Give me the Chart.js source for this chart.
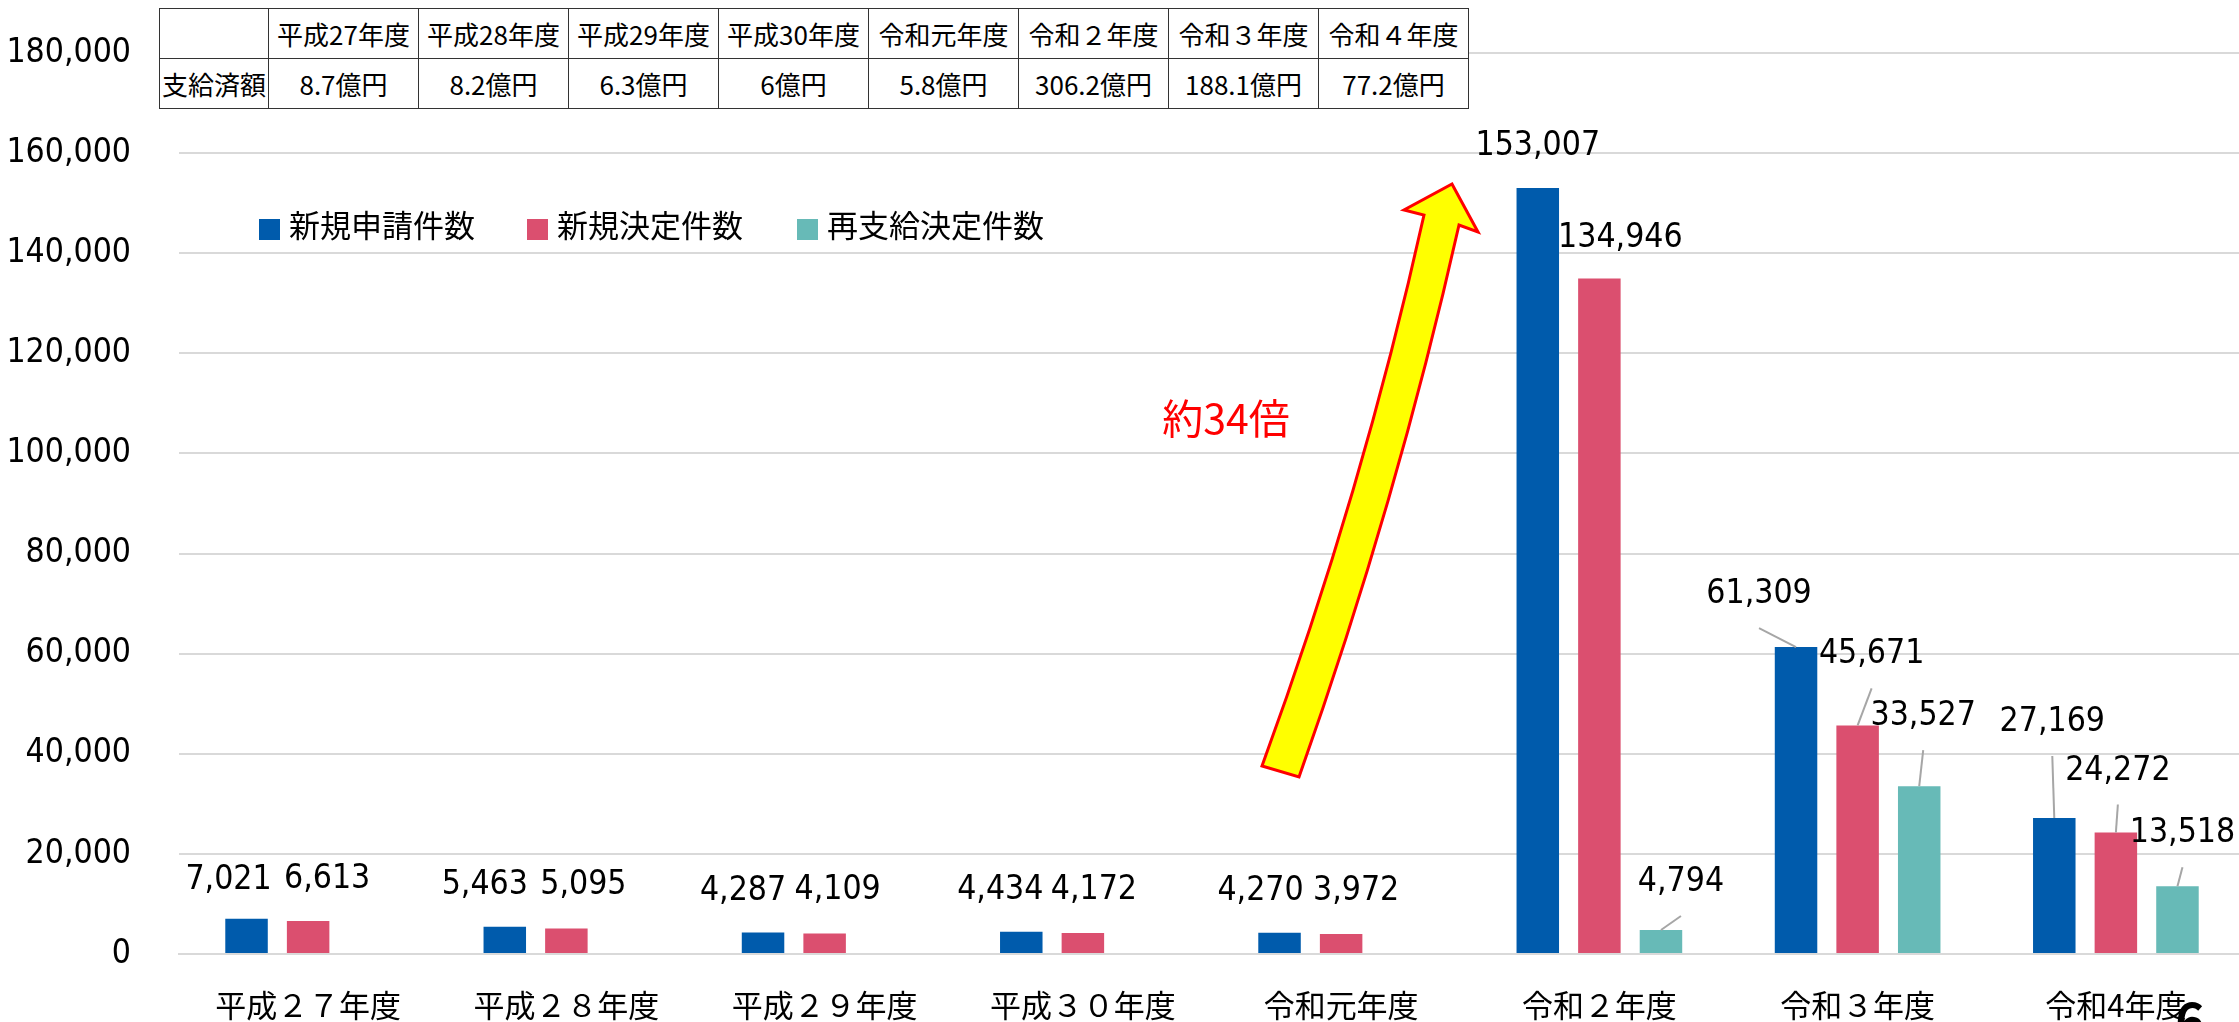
<!DOCTYPE html>
<html lang="ja">
<head>
<meta charset="utf-8">
<title>支給件数の推移</title>
<script src="https://cdn.jsdelivr.net/npm/chart.js@4/dist/chart.umd.min.js"></script>
<style>
  html, body { margin: 0; padding: 0; background: #fff; overflow: hidden; }
  .wrap { position: relative; width: 2245px; height: 1022px; }
  #paid {
    position: absolute; left: 159px; top: 8px;
    border-collapse: collapse; background: #fff;
    font-family: 'Noto Sans CJK JP', sans-serif; font-size: 26px; color: #000;
  }
  #paid td {
    border: 1.5px solid #333; text-align: center; padding: 0;
    width: 149px; height: 49px; white-space: nowrap;
  }
  #paid td:first-child { width: 108px; }
</style>
</head>
<body>
<div class="wrap">
  <canvas id="chart"></canvas>
  <table id="paid"></table>
</div>
<script>
// fiscal years on the x axis
const years = ["平成２７年度", "平成２８年度", "平成２９年度", "平成３０年度", "令和元年度", "令和２年度", "令和３年度", "令和4年度"];
// table above the chart
const tableYears = ["平成27年度", "平成28年度", "平成29年度", "平成30年度", "令和元年度", "令和２年度", "令和３年度", "令和４年度"];
const paidAmounts = ["8.7億円", "8.2億円", "6.3億円", "6億円", "5.8億円", "306.2億円", "188.1億円", "77.2億円"];

// counts
const newApplications = [7021, 5463, 4287, 4434, 4270, 153007, 61309, 27169];
const newDecisions = [6613, 5095, 4109, 4172, 3972, 134946, 45671, 24272];
const reDecisions = [null, null, null, null, null, 4794, 33527, 13518];

const yTicks = [0, 20000, 40000, 60000, 80000, 100000, 120000, 140000, 160000, 180000];

// where each value label sits relative to the top of its bar (px), as dragged in the original
const applicationLabelShift = [[-18, -42], [-20, -45], [-20, -45], [-21, -45], [-19, -45], [0, -45], [-37, -56], [-2, -99]];
const decisionLabelShift = [[19, -45], [17, -46], [13, -46], [11, -46], [15, -46], [21, -44], [14, -74], [2, -65]];
const reDecisionLabelShift = [null, null, null, null, null, [20, -51], [4, -73], [5, -56]];
const applicationLeader = [false, false, false, false, false, false, true, true];
const decisionLeader = [false, false, false, false, false, false, true, true];
const reDecisionLeader = [false, false, false, false, false, true, true, true];

// build the amounts table
const table = document.getElementById("paid");
table.innerHTML =
  "<tr><td></td>" + tableYears.map((y) => `<td>${y}</td>`).join("") + "</tr>" +
  "<tr><td>支給済額</td>" + paidAmounts.map((a) => `<td>${a}</td>`).join("") + "</tr>";

const numFont = "'DejaVu Sans Condensed', 'DejaVu Sans', sans-serif";
const jpFont = "'Noto Sans CJK JP', sans-serif";

const valueLabels = {
  id: "valueLabels",
  afterDatasetsDraw(chart) {
    const ctx = chart.ctx;
    const shifts = [applicationLabelShift, decisionLabelShift, reDecisionLabelShift];
    const leaders = [applicationLeader, decisionLeader, reDecisionLeader];
    ctx.save();
    ctx.font = `33.5px ${numFont}`;
    ctx.textAlign = "center";
    ctx.textBaseline = "alphabetic";
    chart.data.datasets.forEach((ds, di) => {
      chart.getDatasetMeta(di).data.forEach((bar, i) => {
        const v = ds.data[i];
        if (v == null) return;
        const [dx, dy] = shifts[di][i];
        const cx = bar.x + dx;
        const cy = bar.y + dy;
        if (leaders[di][i]) {
          ctx.strokeStyle = "#a6a6a6";
          ctx.lineWidth = 2;
          ctx.beginPath();
          ctx.moveTo(bar.x, bar.y);
          ctx.lineTo(cx, cy + 37);
          ctx.stroke();
        }
        ctx.fillStyle = "#000";
        ctx.fillText(v.toLocaleString("en-US"), cx, cy + 12);
      });
    });
    ctx.restore();
  },
};

const extras = {
  id: "extras",
  afterDraw(chart) {
    const ctx = chart.ctx;
    ctx.save();

    // legend
    const legendX = [259, 527, 797];
    ctx.font = `31px ${jpFont}`;
    ctx.textBaseline = "middle";
    ctx.textAlign = "left";
    chart.data.datasets.forEach((ds, i) => {
      ctx.fillStyle = ds.backgroundColor;
      ctx.fillRect(legendX[i], 219, 21, 21);
      ctx.fillStyle = "#000";
      ctx.fillText(ds.label, legendX[i] + 30, 225);
    });

    // arrow
    ctx.beginPath();
    ctx.moveTo(1262, 766);
    ctx.quadraticCurveTo(1363, 490, 1424, 215);
    ctx.lineTo(1404, 210);
    ctx.lineTo(1452, 184);
    ctx.lineTo(1478, 232);
    ctx.lineTo(1459, 225);
    ctx.quadraticCurveTo(1397, 501, 1299, 777);
    ctx.closePath();
    ctx.fillStyle = "#ffff00";
    ctx.fill();
    ctx.strokeStyle = "#ff0000";
    ctx.lineWidth = 3;
    ctx.lineJoin = "miter";
    ctx.stroke();

    ctx.font = `41px ${jpFont}`;
    ctx.fillStyle = "#ff0000";
    ctx.textAlign = "center";
    ctx.textBaseline = "middle";
    ctx.fillText("約34倍", 1226, 418);

    // page number, cut by the bottom edge
    ctx.font = `bold 50px ${jpFont}`;
    ctx.fillStyle = "#000";
    ctx.textBaseline = "top";
    ctx.fillText("6", 2190, 996);
    ctx.restore();
  },
};

const ctx = document.getElementById("chart").getContext("2d");
new Chart(ctx, {
  type: "bar",
  data: {
    labels: years,
    datasets: [
      { label: "新規申請件数", data: newApplications, backgroundColor: "#005bac" },
      { label: "新規決定件数", data: newDecisions, backgroundColor: "#db4f6f" },
      { label: "再支給決定件数", data: reDecisions, backgroundColor: "#67bab7" },
    ],
  },
  options: {
    responsive: true,
    maintainAspectRatio: false,
    animation: false,
    devicePixelRatio: 1,
    layout: { padding: { top: 53, left: 0, right: 0, bottom: 0 } },
    datasets: { bar: { categoryPercentage: 0.7155, barPercentage: 0.69 } },
    plugins: { legend: { display: false }, tooltip: { enabled: false } },
    scales: {
      x: {
        grid: { display: false, drawTicks: false },
        border: { display: true, color: "#d9d9d9", width: 2 },
        ticks: { color: "#000", padding: 33, font: { family: jpFont, size: 31 }, maxRotation: 0, autoSkip: false },
        afterFit: (scale) => { scale.height = 68; },
      },
      y: {
        min: 0,
        max: 180000,
        afterBuildTicks: (scale) => { scale.ticks = yTicks.map((v) => ({ value: v })); },
        grid: { color: "#d9d9d9", lineWidth: 2, drawTicks: false },
        border: { display: false },
        ticks: {
          color: "#000",
          padding: 48,
          font: { family: numFont, size: 33.5 },
          callback: (v) => v.toLocaleString("en-US"),
        },
        // the tick padding would otherwise push the plot top down
        afterFit: (scale) => {
          scale.width = 179;
          scale.paddingTop = 0;
          scale.paddingBottom = 0;
        },
      },
    },
  },
  plugins: [valueLabels, extras],
});
</script>
</body>
</html>
